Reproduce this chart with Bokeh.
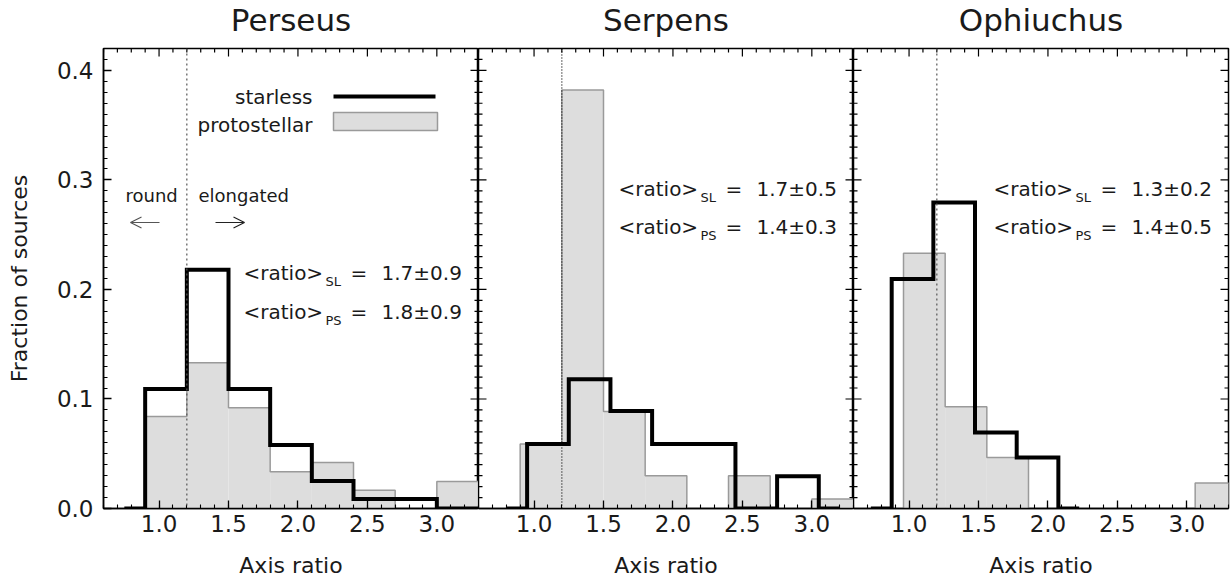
import numpy as np
from bokeh.plotting import figure
from bokeh.layouts import row, column
from bokeh.models import (Range1d, LinearAxis, SingleIntervalTicker, Span, Arrow,
                          OpenHead, BoxAnnotation, PrintfTickFormatter)
from bokeh.core.properties import value
from bokeh.embed import file_html
from bokeh.resources import INLINE

# ---------------- data ----------------
regions = ["Perseus", "Serpens", "Ophiuchus"]
bin_width = 0.3
divider_ratio = 1.2

per_sl_start = 0.6
per_sl_frac = [0.0, 0.109, 0.218, 0.109, 0.058, 0.025, 0.0086, 0.0086, 0.0, 0.0]
per_ps_start = 0.9
per_ps_frac = [0.084, 0.133, 0.092, 0.0335, 0.042, 0.0167, 0.0, 0.0247]

ser_sl_start = 0.65
ser_sl_frac = [0.0, 0.059, 0.118, 0.089, 0.059, 0.059, 0.0, 0.0295, 0.0]
ser_ps_start = 0.9
ser_ps_frac = [0.059, 0.382, 0.0886, 0.0299, 0.0, 0.0299, 0.0, 0.0086]

oph_sl_start = 0.575
oph_sl_frac = [0.0, 0.2095, 0.2795, 0.0694, 0.0466, 0.0]
oph_ps_start = 0.96
oph_ps_frac = [0.233, 0.093, 0.0466, 0.0, 0.0, 0.0, 0.0, 0.0232]

sl_means = ["1.7\u00b10.9", "1.7\u00b10.5", "1.3\u00b10.2"]
ps_means = ["1.8\u00b10.9", "1.4\u00b10.3", "1.4\u00b10.5"]

x_major_step, x_minor_step = 0.5, 0.1
y_major_step, y_minor_step = 0.1, 0.01

# ---------------- layout / style ----------------
FONT = "DejaVu Sans"
TXT = "#1a1a1a"
X0, X1 = 0.6, 3.3
Y0, Y1 = 0.0, 0.42
FW, FH = 375, 460
TITLE_H = 47
TOP, BOT, LEFT = 48, 76, 103
FRAME_LEFTS = [103, 478, 853]
PXX = FW / (X1 - X0)
PXY = FH / (Y1 - Y0)
MAJ, MIN = 8, 4


def dx(px, i):
    return X0 + (px - FRAME_LEFTS[i]) / PXX


def dy(py):
    return Y0 + (TOP + FH - py) / PXY


def style_axis(ax):
    ax.axis_line_color = "black"
    ax.axis_line_width = 1.5
    ax.major_tick_in = MAJ
    ax.major_tick_out = 0
    ax.minor_tick_in = MIN
    ax.minor_tick_out = 0
    ax.major_tick_line_color = "black"
    ax.minor_tick_line_color = "black"
    ax.major_tick_line_width = 1.3
    ax.minor_tick_line_width = 1.1
    ax.major_label_text_font = FONT
    ax.major_label_text_font_size = "23px"
    ax.major_label_text_color = TXT
    ax.formatter = PrintfTickFormatter(format="%.1f")
    ax.axis_label_text_font = FONT
    ax.axis_label_text_font_size = "22px"
    ax.axis_label_text_font_style = "normal"
    ax.axis_label_text_color = TXT


# tick positions for the frame sides without an axis
xt = np.round(np.arange(X0, X1 + 1e-6, x_minor_step), 3)
xt_major = np.isclose(np.round(xt / x_minor_step) % round(x_major_step / x_minor_step), 0)
yt = np.round(np.arange(Y0, Y1 + 1e-6, y_minor_step), 3)
yt_major = np.isclose(np.round(yt / y_minor_step) % round(y_major_step / y_minor_step), 0)
xt_len = np.where(xt_major, MAJ, MIN) / PXY
yt_len = np.where(yt_major, MAJ, MIN) / PXX

hist_data = [
    (per_sl_start, per_sl_frac, per_ps_start, per_ps_frac),
    (ser_sl_start, ser_sl_frac, ser_ps_start, ser_ps_frac),
    (oph_sl_start, oph_sl_frac, oph_ps_start, oph_ps_frac),
]

ann = [(243, 272, 311), (618, 188, 226), (993, 188, 226)]
dots = [("#555555", "2 3"), ("#000000", "1 2"), ("#555555", "2 3")]

# ---------------- title strip ----------------
head = figure(width=1230, height=TITLE_H, x_range=Range1d(0, 1230),
              y_range=Range1d(0, TITLE_H), output_backend="svg", toolbar_location=None,
              x_axis_location=None, y_axis_location=None, min_border=0)
head.grid.visible = False
head.outline_line_color = None
head.text(x=[fl + FW / 2 for fl in FRAME_LEFTS], y=[TITLE_H - 19] * 3, text=regions,
          text_font=value(FONT), text_font_size="31px", text_color=TXT,
          text_align="center", text_baseline="alphabetic")

figs = []
for i, name in enumerate(regions):
    left = LEFT if i == 0 else 0
    right = 2 if i == 2 else 0
    top = TOP - TITLE_H
    p = figure(width=left + FW + right, height=top + FH + BOT,
               x_range=Range1d(X0, X1), y_range=Range1d(Y0, Y1),
               output_backend="svg", toolbar_location=None,
               x_axis_location=None, y_axis_location=None,
               min_border_left=left, min_border_right=right,
               min_border_top=top, min_border_bottom=BOT)
    p.grid.visible = False
    p.outline_line_color = "black"
    p.outline_line_width = 1.5
    p.background_fill_color = "white"
    p.border_fill_color = "white"

    xax = LinearAxis(ticker=SingleIntervalTicker(interval=x_major_step, num_minor_ticks=5))
    style_axis(xax)
    xax.axis_label = "Axis ratio"
    xax.major_label_standoff = 6
    xax.axis_label_standoff = 18
    p.add_layout(xax, "below")

    if i == 0:
        yax = LinearAxis(ticker=SingleIntervalTicker(interval=y_major_step, num_minor_ticks=10))
        style_axis(yax)
        yax.axis_label = "Fraction of sources"
        yax.major_label_standoff = 10
        yax.axis_label_standoff = 22
        p.add_layout(yax, "left")
    else:
        # inward ticks on the shared left border
        p.segment(x0=np.full(len(yt), X0), y0=yt, x1=X0 + yt_len, y1=yt,
                  line_color="black", line_width=1.2)
    # inward ticks on the top and right borders
    p.segment(x0=xt, y0=np.full(len(xt), Y1), x1=xt, y1=Y1 - xt_len,
              line_color="black", line_width=1.2)
    p.segment(x0=np.full(len(yt), X1), y0=yt, x1=X1 - yt_len, y1=yt,
              line_color="black", line_width=1.2)

    sl_start, sl_frac, ps_start, ps_frac = hist_data[i]
    # protostellar: filled grey histogram with outline
    lefts = ps_start + bin_width * np.arange(len(ps_frac))
    p.quad(left=lefts, right=lefts + bin_width, bottom=0, top=ps_frac,
           fill_color="#dddddd", line_color=None)
    ox = [lefts[0]] + list(lefts) + [lefts[-1] + bin_width]
    oy = [0.0] + list(ps_frac) + [0.0]
    p.step(ox, oy, mode="after", line_color="#9a9a9a", line_width=1.5)

    col, dash = dots[i]
    p.add_layout(Span(location=divider_ratio, dimension="height", line_color=col,
                      line_dash=dash, line_width=1.2))

    # starless: thick black histogram outline
    centers = sl_start + bin_width / 2 + bin_width * np.arange(len(sl_frac))
    p.step(centers, sl_frac, mode="center", line_color="black", line_width=4,
           line_join="miter")

    sx, b1, b2 = ann[i]
    kw = dict(text_font=value(FONT), text_color=TXT, text_baseline="alphabetic",
              text_align="left")
    p.text(x=[dx(sx, i), dx(sx, i)], y=[dy(b1), dy(b2)], text=["<ratio>", "<ratio>"],
           text_font_size="20px", **kw)
    p.text(x=[dx(sx + 82, i)] * 2, y=[dy(b1 + 9), dy(b2 + 9)], text=["SL", "PS"],
           text_font_size="13px", **kw)
    p.text(x=[dx(sx + 107, i)] * 2, y=[dy(b1), dy(b2)], text=["=", "="],
           text_font_size="20px", **kw)
    p.text(x=[dx(sx + 138, i)] * 2, y=[dy(b1), dy(b2)], text=[sl_means[i], ps_means[i]],
           text_font_size="20px", **kw)

    if i == 0:
        kr = dict(text_font=value(FONT), text_color=TXT, text_baseline="alphabetic",
                  text_align="right", text_font_size="20px")
        p.text(x=[dx(312, 0), dx(312, 0)], y=[dy(96), dy(124)],
               text=["starless", "protostellar"], **kr)
        p.add_layout(Arrow(start=None, end=None, x_start=dx(333, 0), y_start=dy(96),
                           x_end=dx(435, 0), y_end=dy(96), line_color="black",
                           line_width=4))
        p.add_layout(BoxAnnotation(left=dx(333, 0), right=dx(437, 0), top=dy(112),
                                   bottom=dy(130), fill_color="#dddddd", fill_alpha=1,
                                   line_color="#9a9a9a", line_width=1.5, line_alpha=1))
        p.text(x=[dx(125, 0), dx(198, 0)], y=[dy(195), dy(195)],
               text=["round", "elongated"], text_font=value(FONT), text_color=TXT,
               text_baseline="alphabetic", text_align="left", text_font_size="18px")
        p.add_layout(Arrow(end=OpenHead(size=11, line_width=1.2, line_color="#555555"),
                           x_start=dx(159, 0), y_start=dy(222), x_end=dx(130, 0),
                           y_end=dy(222), line_color="#555555", line_width=1.2))
        p.add_layout(Arrow(end=OpenHead(size=11, line_width=1.2, line_color="#222222"),
                           x_start=dx(215, 0), y_start=dy(222), x_end=dx(244, 0),
                           y_end=dy(222), line_color="#222222", line_width=1.2))
    figs.append(p)

layout = column(head, row(*figs))
open("out.html", "w").write(file_html(layout, INLINE))
